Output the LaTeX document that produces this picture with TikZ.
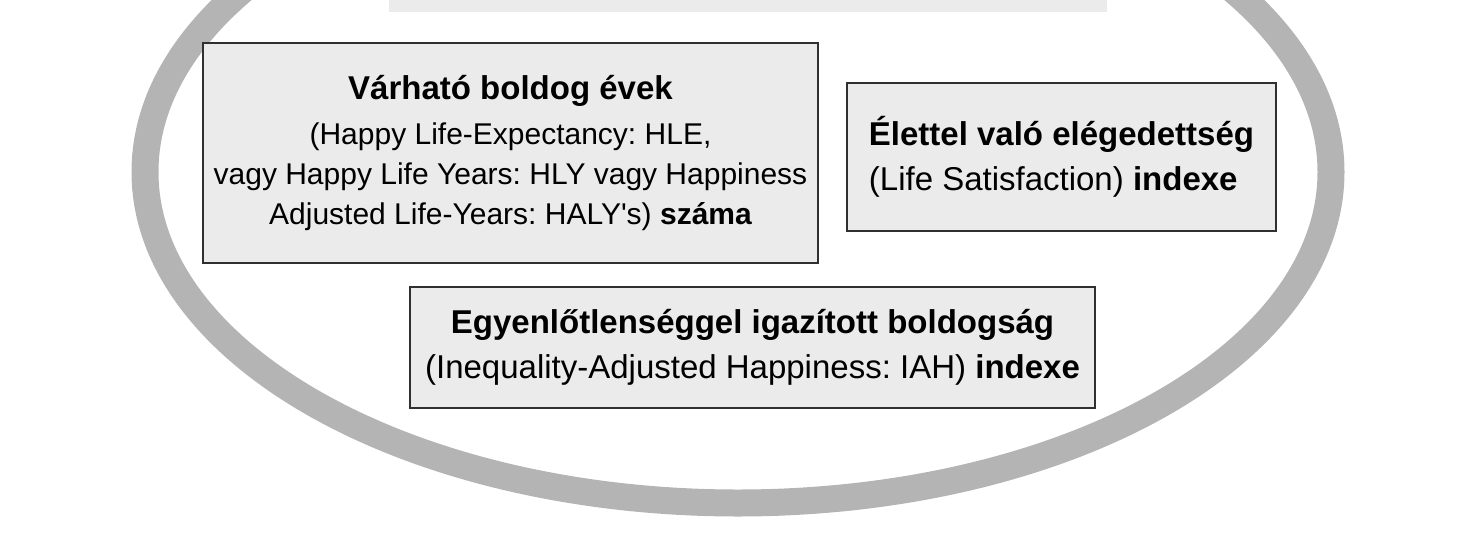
\documentclass[tikz,border=0pt]{standalone}
\usepackage{fontspec}
\setmainfont{Liberation Sans}
\frenchspacing
\definecolor{ringgray}{HTML}{B4B4B4}
\definecolor{boxfill}{HTML}{EBEBEB}
\definecolor{boxline}{HTML}{303030}
\tikzset{
  measurebox/.style={draw=boxline,line width=2.5pt,fill=boxfill,inner sep=0pt,align=center,font=\fontsize{33}{45}\selectfont},
}
\begin{document}
\begin{tikzpicture}[x=1pt,y=-1pt]
				\useasboundingbox (0,0) rectangle (1468,552);
				\clip (0,0) rectangle (1468,552);
				% outer ring
				\draw[ringgray,line width=27pt] (738,172) ellipse [x radius=593pt,y radius=331pt];
				% title bar, cut off at the top
				\node[fill=boxfill,inner sep=0pt,minimum width=718pt,minimum height=60pt] (title) at (748,-18) {};
				\node[measurebox,minimum width=615pt,minimum height=220pt,font=\fontsize{30}{40}\selectfont] (hle) at (510.5,153)
					{\rule{0pt}{6pt}{\fontsize{33}{40}\selectfont\bfseries Várható boldog évek}\\[5pt]
					(Happy Life-Expectancy: HLE,\\
					vagy Happy Life Years: HLY vagy Happiness\\
					Adjusted Life-Years: HALY\textquotesingle s) {\bfseries száma}};
				\node[measurebox,minimum width=429pt,minimum height=148pt,align=left] (ls) at (1061.5,157)
					{{\bfseries Élettel való elégedettség}\\
					(Life Satisfaction) {\bfseries indexe}};
				\node[measurebox,minimum width=685pt,minimum height=121pt] (iah) at (752.5,347.5)
					{{\bfseries Egyenlőtlenséggel igazított boldogság}\\
					(Inequality-Adjusted Happiness: IAH) {\bfseries indexe}};
			\end{tikzpicture}
\end{document}
